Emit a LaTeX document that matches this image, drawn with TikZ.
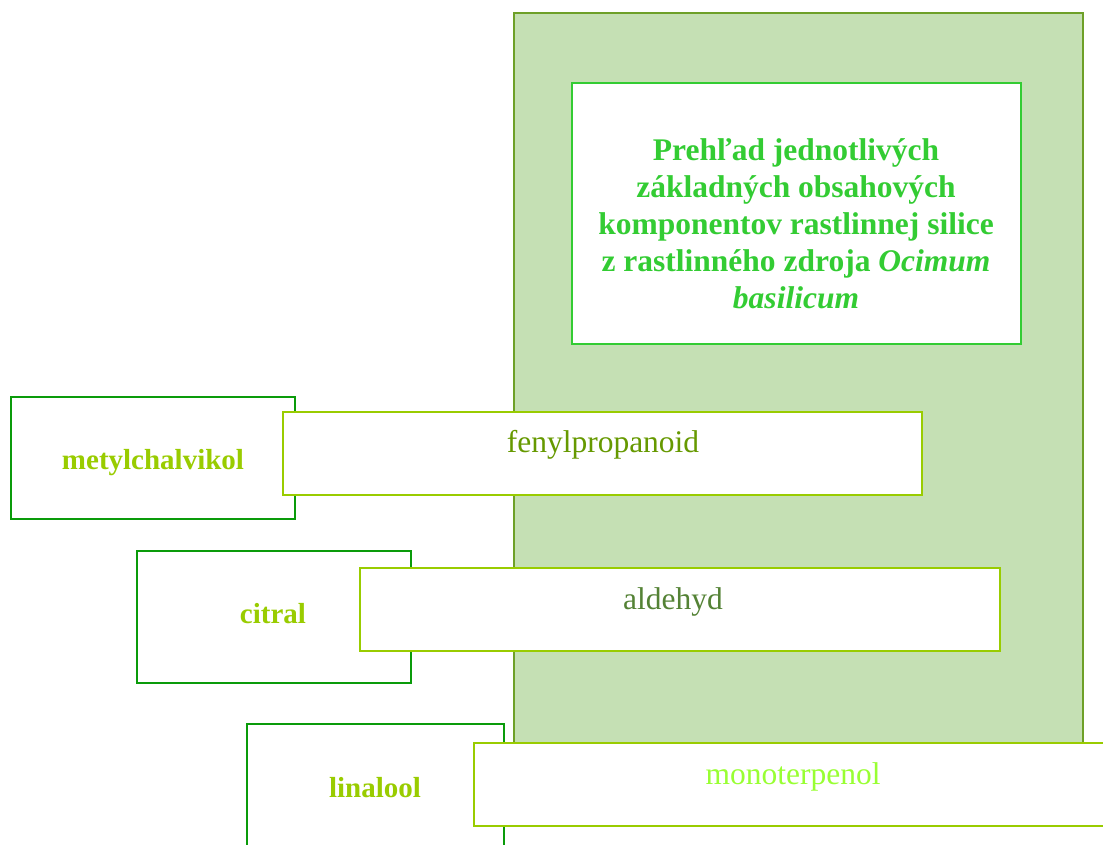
\documentclass[tikz,border=0pt]{standalone}
\usepackage{fontspec}
\setmainfont{Liberation Serif}
\definecolor{bigfill}{RGB}{197,224,180}
\definecolor{bigdraw}{RGB}{110,160,40}
\definecolor{titlegreen}{RGB}{51,204,51}
\definecolor{darkbox}{RGB}{10,155,10}
\definecolor{ygreen}{RGB}{153,204,0}
\definecolor{fentext}{RGB}{102,153,0}
\definecolor{aldtext}{RGB}{84,130,53}
\definecolor{monotext}{RGB}{153,255,51}
\begin{document}
\begin{tikzpicture}[x=1pt,y=-1pt,
  box/.style={rectangle,anchor=north west,inner sep=0pt,outer sep=0pt,line width=2pt,fill=white},
  bigbox/.style={box,draw=bigdraw,fill=bigfill},
  titlebox/.style={box,draw=titlegreen},
  leftbox/.style={box,draw=darkbox},
  catbox/.style={box,draw=ygreen},
  txt/.style={font=\fontsize{31.5}{37}\selectfont,inner sep=0pt,anchor=base},
  lefttxt/.style={txt,font=\fontsize{29}{37}\selectfont\bfseries,text=ygreen}]
\useasboundingbox (0,0) rectangle (1103,844);
\clip (0,0) rectangle (1103,844);
\node[bigbox,minimum width=569pt,minimum height=780pt] (big) at (514,13) {};
\node[titlebox,minimum width=449pt,minimum height=261pt] (titlebox) at (572,83) {};
\node[font=\fontsize{31.5}{37}\selectfont\bfseries,text=titlegreen,align=center,inner sep=0pt] (title) at (796,224)
  {Prehľad jednotlivých\\základných obsahových\\komponentov rastlinnej silice\\z rastlinného zdroja \textit{Ocimum}\\\textit{basilicum}};
% row 1
\node[leftbox,minimum width=284pt,minimum height=122pt] (metb) at (11,397) {};
\node[lefttxt] (met) at (153,469) {metylchalvikol};
\node[catbox,minimum width=639pt,minimum height=83pt] (fenb) at (283,412) {};
\node[txt,text=fentext] (fen) at (603,452) {fenylpropanoid};
% row 2
\node[leftbox,minimum width=274pt,minimum height=132pt] (citb) at (137,551) {};
\node[lefttxt] (cit) at (273,623) {citral};
\node[catbox,minimum width=640pt,minimum height=83pt] (aldb) at (360,568) {};
\node[txt,text=aldtext] (ald) at (673,609) {aldehyd};
% row 3
\node[leftbox,minimum width=257pt,minimum height=160pt] (linb) at (247,724) {};
\node[lefttxt] (lin) at (375,797) {linalool};
\node[catbox,minimum width=660pt,minimum height=83pt] (monb) at (474,743) {};
\node[txt,text=monotext] (mon) at (793,784) {monoterpenol};
\end{tikzpicture}
\end{document}
